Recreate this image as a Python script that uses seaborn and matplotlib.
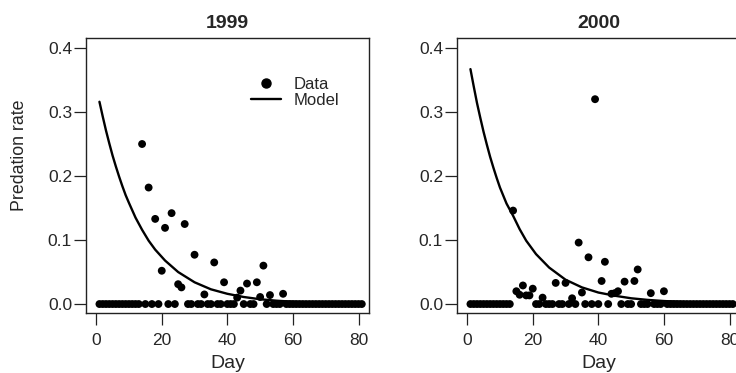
import numpy as np
import pandas as pd
import matplotlib
matplotlib.use("Agg")
import matplotlib.pyplot as plt
import seaborn as sns
from matplotlib.lines import Line2D

sns.set_style("ticks")
plt.rcParams['font.family'] = ['Liberation Sans', 'DejaVu Sans']

# ---- data ----
all_days = list(range(1, 82))

days_1999 = [14, 16, 18, 20, 21, 23, 25, 26, 27, 30, 33, 36, 39, 43, 44, 46, 49, 50, 51, 53, 57]
rate_1999 = [0.250, 0.182, 0.133, 0.052, 0.119, 0.142, 0.031, 0.026, 0.125, 0.077, 0.015,
             0.065, 0.034, 0.010, 0.021, 0.032, 0.034, 0.011, 0.060, 0.014, 0.016]

days_2000 = [14, 15, 16, 17, 18, 19, 20, 23, 27, 30, 32, 34, 35, 37, 39, 41, 42, 44, 45, 46,
             48, 51, 52, 56, 60]
rate_2000 = [0.146, 0.020, 0.0145, 0.029, 0.0135, 0.0135, 0.024, 0.010, 0.033, 0.033, 0.009,
             0.096, 0.018, 0.073, 0.320, 0.036, 0.066, 0.016, 0.017, 0.020,
             0.035, 0.036, 0.054, 0.017, 0.020]

model_days = [1, 2, 3, 4, 5, 6, 7, 8, 9, 10, 12, 14, 16, 18, 21, 25, 30, 35, 40, 45, 50,
              55, 60, 70, 81]
model_1999 = [0.316, 0.293, 0.271, 0.251, 0.232, 0.215, 0.199, 0.184, 0.170, 0.158, 0.135,
              0.116, 0.099, 0.085, 0.068, 0.050, 0.034, 0.023, 0.016, 0.011, 0.0075,
              0.0052, 0.0036, 0.0017, 0.0008]
model_2000 = [0.367, 0.340, 0.314, 0.291, 0.269, 0.249, 0.230, 0.213, 0.197, 0.182, 0.157,
              0.138, 0.117, 0.099, 0.078, 0.057, 0.038, 0.026, 0.018, 0.013, 0.009,
              0.0065, 0.0047, 0.0022, 0.0010]

years = ["1999", "2000"]
yticks = [0.0, 0.1, 0.2, 0.3, 0.4]
xticks = [0, 20, 40, 60, 80]


def observed(nz_days, nz_rates):
    rec = {d: 0.0 for d in all_days}
    for d, r in zip(nz_days, nz_rates):
        rec[d] = r
    return pd.DataFrame({"Day": list(rec.keys()), "Rate": list(rec.values())})


obs = {"1999": observed(days_1999, rate_1999), "2000": observed(days_2000, rate_2000)}
mod = {"1999": pd.DataFrame({"Day": model_days, "Rate": model_1999}),
       "2000": pd.DataFrame({"Day": model_days, "Rate": model_2000})}

W, H = 736, 373
fig = plt.figure(figsize=(W / 100, H / 100), dpi=100)
frame_bottom, frame_top = 313, 38
ax_h = (frame_bottom - frame_top) / H
ax_b = (H - frame_bottom) / H
axes = [fig.add_axes([86 / W, ax_b, 283 / W, ax_h]),
        fig.add_axes([457 / W, ax_b, 283 / W, ax_h])]

for ax, yr in zip(axes, years):
    sns.scatterplot(data=obs[yr], x="Day", y="Rate", ax=ax, color="black",
                    s=32, edgecolor="none", linewidth=0, zorder=3)
    sns.lineplot(data=mod[yr], x="Day", y="Rate", ax=ax, color="black",
                 linewidth=1.7, zorder=2)
    ax.set_xlim(-3.1, 83.2)
    ax.set_ylim(-0.014, 0.4156)
    ax.set_xticks(xticks)
    ax.set_xticklabels([str(t) for t in xticks])
    ax.set_yticks(yticks)
    ax.set_yticklabels([f"{t:.1f}" for t in yticks])
    ax.tick_params(axis="both", direction="out", length=8.5, width=0.9,
                   color="#222222", labelsize=12.5)
    ax.tick_params(axis="x", pad=6)
    ax.tick_params(axis="y", pad=1.5)
    for sp in ax.spines.values():
        sp.set_visible(True)
        sp.set_linewidth(1.0)
        sp.set_color("#222222")
    ax.set_title(yr, fontsize=14, fontweight="bold", pad=7)
    ax.set_xlabel("Day", fontsize=14, labelpad=5)
    ax.set_ylabel("")

axes[0].set_ylabel("Predation rate", fontsize=12.8)
axes[0].yaxis.set_label_coords(-0.205, 0.572)

handles = [Line2D([], [], marker="o", color="black", linestyle="none", markersize=6.5),
           Line2D([], [], color="black", linewidth=1.7)]
axes[0].legend(handles, ["Data", "Model"], frameon=False, loc="upper left",
               bbox_to_anchor=(0.582, 0.857), borderpad=0, borderaxespad=0,
               handlelength=1.8, handletextpad=0.8, labelspacing=0.05, fontsize=12)

fig.savefig("out.png", dpi=100)
